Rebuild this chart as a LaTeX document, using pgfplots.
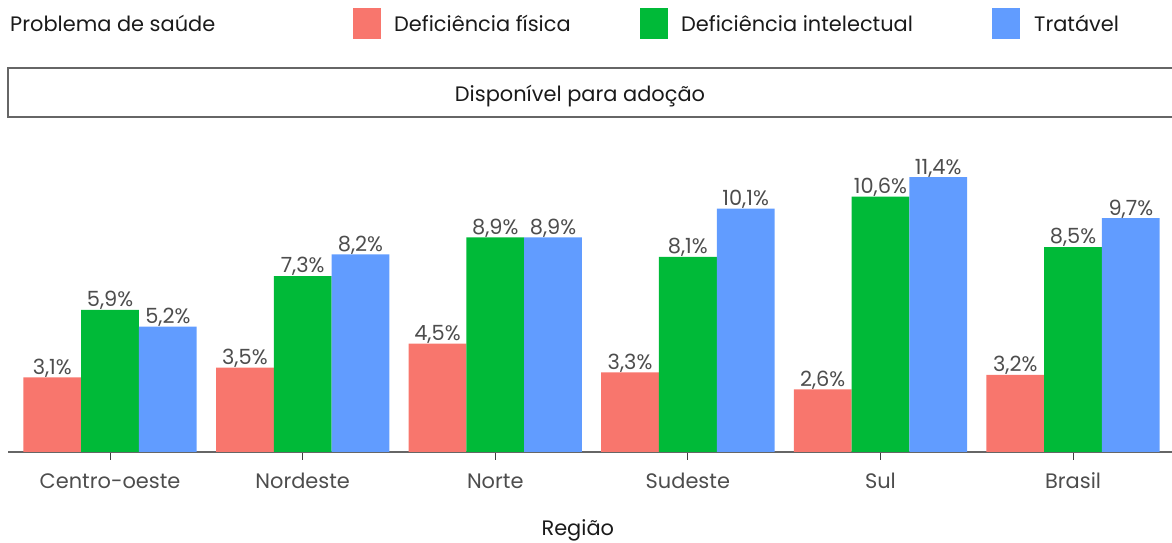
\documentclass[border=0pt]{standalone}
\usepackage{pgfplots}
\pgfplotsset{compat=1.18}
\usepackage{fontspec}
\setmainfont{Poppins}
\definecolor{cR}{HTML}{F8766D}
\definecolor{cG}{HTML}{00BA38}
\definecolor{cB}{HTML}{619CFF}
\definecolor{txt}{HTML}{4D4D4D}
\definecolor{txk}{HTML}{1A1A1A}
\newcommand{\fs}{\fontsize{21}{24}\selectfont}
\begin{document}
\begin{tikzpicture}[x=1bp,y=1bp]
\useasboundingbox (0,0) rectangle (1172,543);
% legend
\tikzset{lt/.style={anchor=base west, inner sep=0pt, font=\fs, text=txk}}
\node[lt] at (10,511) {Problema de saúde};
\fill[cR] (353,504) rectangle (381,535);
\node[lt] at (394,511) {Deficiência física};
\fill[cG] (640,504) rectangle (668,535);
\node[lt] at (681,511) {Deficiência intelectual};
\fill[cB] (992,504) rectangle (1020,535);
\node[lt] at (1034,511) {Tratável};
% strip
\draw[draw=black!60, line width=1.2bp, fill=white] (8,426) rectangle (1180,475);
\node[anchor=base, inner sep=0pt, font=\fs, text=txk] at (580,441) {Disponível para adoção};
\begin{axis}[
  at={(8bp,91bp)}, anchor=south west, scale only axis,
  width=1164bp, height=335bp,
  xmin=-0.53, xmax=5.514, ymin=0, ymax=13.9,
  axis x line*=bottom, axis y line=none,
  x axis line style={draw=black!60, line width=1.2bp},
  xtick=data,
  xticklabels={Centro-oeste,Nordeste,Norte,Sudeste,Sul,Brasil},
  tick align=outside, major tick length=8bp,
  x tick style={draw=black!75, line width=1bp},
  xticklabel style={font=\fs, text=txt, anchor=base, yshift=-28.5bp},
  xlabel={Região},
  xlabel style={at={(axis description cs:0.4895,0)}, anchor=base, yshift=-84bp, font=\fs, text=txk},
  ybar, bar width=0.3,
  clip=false,
  nodes near coords={\pgfmathprintnumber[fixed,precision=1,fixed zerofill,use comma,assume math mode=true]{\pgfplotspointmeta}\%},
  nodes near coords style={font=\fs, text=txt, anchor=south, inner sep=1bp, yshift=-1bp},
  every axis plot/.append style={draw=none},
]
\addplot[fill=cR, bar shift=-0.3] coordinates {(0,3.1) (1,3.5) (2,4.5) (3,3.3) (4,2.6) (5,3.2)};
\addplot[fill=cG, bar shift=0] coordinates {(0,5.9) (1,7.3) (2,8.9) (3,8.1) (4,10.6) (5,8.5)};
\addplot[fill=cB, bar shift=0.3] coordinates {(0,5.2) (1,8.2) (2,8.9) (3,10.1) (4,11.4) (5,9.7)};
\end{axis}
\end{tikzpicture}
\end{document}
